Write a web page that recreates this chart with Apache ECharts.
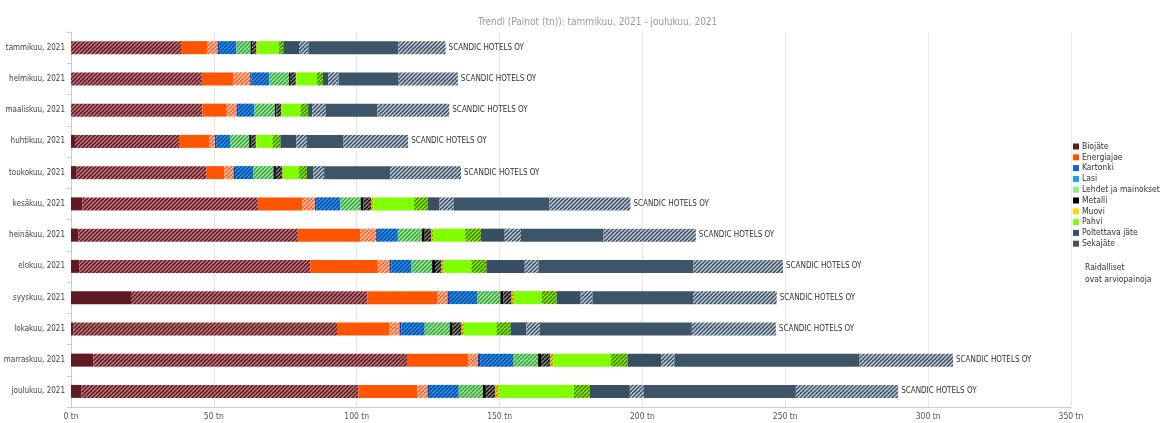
<!DOCTYPE html>
<html>
<head>
<meta charset="utf-8">
<script src="https://cdn.jsdelivr.net/npm/echarts@6/dist/echarts.min.js"></script>
<style>
html,body{margin:0;padding:0;background:#fff;}
#chart{width:1164px;height:423px;}
</style>
</head>
<body>
<div id="chart"></div>
<script>
// ---- data (tonnes). "S" = measured (solid), "H" = estimated (striped) ----
const categories = ["tammikuu, 2021","helmikuu, 2021","maaliskuu, 2021","huhtikuu, 2021","toukokuu, 2021","kesäkuu, 2021","heinäkuu, 2021","elokuu, 2021","syyskuu, 2021","lokakuu, 2021","marraskuu, 2021","joulukuu, 2021"];
const xTicks = [0,50,100,150,200,250,300,350];
const companyLabel = "SCANDIC HOTELS OY";

const biojateS      = [0,   0,   0,   1.4, 2.0, 4.0, 2.6, 2.9, 21.0, 0.8, 7.8, 3.7];
const biojateH      = [38.5,45.8,46.0,36.4,45.5,61.4,76.8,80.8,82.8,92.3,109.8,96.9];
const energiajaeS   = [9.1, 11.1,8.5, 10.5,6.2, 15.6,21.8,23.7,24.3,18.4,21.4,20.7];
const energiajaeH   = [3.7, 5.8, 3.5, 2.1, 3.2, 4.4, 5.6, 4.1, 3.7, 3.5, 3.4, 3.5];
const kartonkiS     = [0,0,0,0,0,0,0,0,0,0,0,0];
const kartonkiH     = [0.5, 0.5, 0.5, 0.4, 0.5, 0.6, 0.6, 0.6, 0.8, 0.7, 0.8, 0.8];
const lasiS         = [0,0,0,0,0,0,0,0,0,0,0,0];
const lasiH         = [6.1, 6.2, 5.7, 4.9, 6.3, 8.2, 7.0, 7.1, 9.5, 8.1, 11.5,10.1];
const lehdetS       = [0,0,0,0,0,0,0,0,0,0,0,0];
const lehdetH       = [5.0, 6.9, 7.2, 6.7, 7.2, 7.2, 8.4, 7.2, 8.2, 8.8, 8.8, 8.5];
const metalliS      = [0.5, 0.6, 0.5, 0.8, 0.8, 1.0, 1.0, 1.0, 1.0, 1.0, 1.0, 1.0];
const metalliH      = [1.5, 1.8, 1.6, 1.5, 2.2, 2.6, 2.3, 2.3, 2.9, 3.1, 3.2, 3.3];
const muoviS        = [0,0,0,0,0,0,0,0,0,0,0,0];
const muoviH        = [0.3, 0.2, 0.2, 0.2, 0.3, 0.8, 0.6, 0.8, 0.8, 0.8, 1.2, 1.2];
const pahviS        = [7.6, 7.2, 6.6, 5.6, 5.5, 14.3,11.3,9.6, 9.7, 11.4,20.1,26.3];
const pahviH        = [1.5, 2.1, 2.7, 2.8, 2.9, 4.8, 5.5, 5.3, 5.3, 4.9, 5.8, 5.6];
const poltettavaS   = [5.5, 1.8, 1.4, 5.6, 2.3, 4.1, 8.3, 13.4,8.4, 5.6, 11.7,14.0];
const poltettavaH   = [3.3, 3.7, 4.7, 3.7, 3.7, 4.9, 5.7, 4.8, 4.1, 4.7, 4.7, 4.9];
const sekajateS     = [31.4,21.0,18.1,12.8,23.1,33.6,28.9,54.3,35.2,53.2,64.8,53.2];
const sekajateH     = [16.6,20.7,25.2,22.6,24.8,28.3,32.3,31.3,29.3,29.4,32.7,35.8];

const wasteTypes = [
  {name:"Biojäte",              s:biojateS,    h:biojateH,    color:"#621a22", hb:"#5e1a20", hs:"rgba(225,150,160,0.8)"},
  {name:"Energiajae",           s:energiajaeS, h:energiajaeH, color:"#ff5500", hb:"#ff5a1a", hs:"rgba(255,215,195,0.95)"},
  {name:"Kartonki",             s:kartonkiS,   h:kartonkiH,   color:"#1f5fd6", hb:"#1f5fd6", hs:"#0a2a80"},
  {name:"Lasi",                 s:lasiS,       h:lasiH,       color:"#1ea0f0", hb:"#1f98ec", hs:"#0b3f9a"},
  {name:"Lehdet ja mainokset",  s:lehdetS,     h:lehdetH,     color:"#90ee90", hb:"#98e698", hs:"#3d9e3d"},
  {name:"Metalli",              s:metalliS,    h:metalliH,    color:"#000000", hb:"#111111", hs:"#8a8a8a"},
  {name:"Muovi",                s:muoviS,      h:muoviH,      color:"#ffd700", hb:"#ffd700", hs:"#b08000"},
  {name:"Pahvi",                s:pahviS,      h:pahviH,      color:"#80ff00", hb:"#80f000", hs:"#3f7d00"},
  {name:"Poltettava jäte",      s:poltettavaS, h:poltettavaH, color:"#384e62", hb:"#3b5266", hs:"rgba(205,214,222,0.95)"},
  {name:"Sekajäte",             s:sekajateS,   h:sekajateH,   color:"#3d5568", hb:"#3e5568", hs:"rgba(205,214,222,0.95)"}
];

function makePattern(base, stripe){
  const c = document.createElement('canvas');
  c.width = 8; c.height = 8;
  const g = c.getContext('2d');
  g.fillStyle = base; g.fillRect(0,0,8,8);
  g.strokeStyle = stripe; g.lineWidth = 1.3;
  for (let x = -8; x <= 16; x += 4){
    g.beginPath(); g.moveTo(x, 8); g.lineTo(x + 8, 0); g.stroke();
  }
  return {image: c, repeat: 'repeat'};
}

const FONT = "'Liberation Sans Narrow','DejaVu Sans Condensed','Roboto Condensed','Liberation Sans',Arial,sans-serif";
const series = [];
wasteTypes.forEach((w, i) => {
  series.push({
    name: w.name, type: 'bar', stack: 'total', barWidth: 13,
    data: w.s, itemStyle: {color: w.color}, emphasis:{disabled:true}
  });
  const isLast = i === wasteTypes.length - 1;
  series.push({
    name: w.name + " (arvio)", type: 'bar', stack: 'total', barWidth: 13,
    data: w.h, itemStyle: {color: makePattern(w.hb, w.hs)}, emphasis:{disabled:true},
    label: isLast ? {show: true, position: 'right', distance: 3, formatter: companyLabel,
      fontSize: 8, color: '#333', fontFamily: FONT} : {show:false}
  });
});

const chart = echarts.init(document.getElementById('chart'), null, {renderer: 'canvas'});
chart.setOption({
  animation: false,
  backgroundColor: '#fff',
  title: {
    text: 'Trendi (Painot (tn)): tammikuu, 2021 - joulukuu, 2021',
    left: 473, top: 12,
    textStyle: {fontSize: 10, fontWeight: 'normal', color: '#999', fontFamily: FONT}
  },
  legend: {
    data: wasteTypes.map(w => ({name: w.name, itemStyle: {color: w.color}})),
    orient: 'vertical', left: 1068, top: 137,
    icon: 'rect', itemWidth: 6, itemHeight: 6, itemGap: 1.8,
    textStyle: {fontSize: 8.5, color: '#333', fontFamily: FONT, padding: [0,0,0,-2]},
    selectedMode: false
  },
  graphic: [{
    type: 'text', left: 1085, top: 262,
    style: {text: 'Raidalliset\novat arviopainoja', fontSize: 8.5, lineHeight: 12, fill: '#333', fontFamily: FONT}
  }],
  grid: {left: 71, right: 93, top: 32, bottom: 16, containLabel: false, outerBoundsMode: 'none'},
  xAxis: {
    type: 'value', min: xTicks[0], max: xTicks[xTicks.length-1], interval: 50,
    axisLine: {show: true, lineStyle: {color: '#ccc'}},
    axisTick: {show: false},
    axisLabel: {formatter: '{value} tn', fontSize: 8.5, color: '#555', margin: 5, fontFamily: FONT},
    splitLine: {show: true, lineStyle: {color: '#e6e6e6'}}
  },
  yAxis: {
    type: 'category', data: categories, inverse: true,
    axisLine: {show: true, lineStyle: {color: '#ccc'}},
    axisTick: {show: true, length: 4, lineStyle: {color: '#ccc'}},
    axisLabel: {fontSize: 8, color: '#444', margin: 6, fontFamily: FONT}
  },
  series: series
});
</script>
</body>
</html>
